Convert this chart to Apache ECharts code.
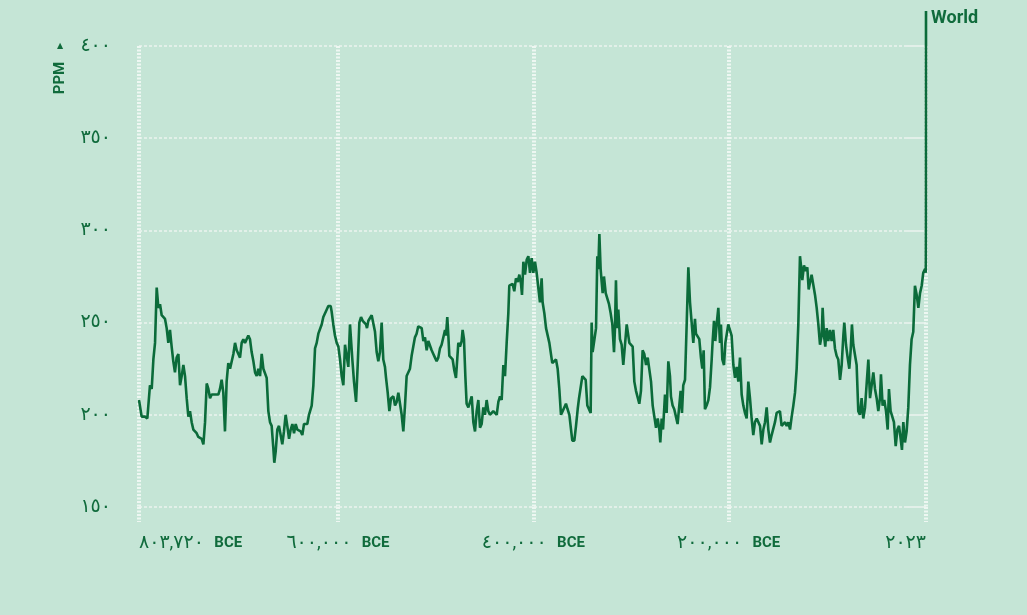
<!DOCTYPE html>
<html>
<head>
<meta charset="utf-8">
<script src="https://cdn.jsdelivr.net/npm/echarts@6/dist/echarts.min.js"></script>
<style>
  html, body { margin: 0; padding: 0; background: #c5e5d6; }
  #chart { width: 1027px; height: 615px; }
</style>
</head>
<body>
<div id="chart"></div>
<script>
const years = [
  -803720, -802700, -801000, -797600, -795200, -792500, -790700, -789000, -787300, -785600,
  -783900, -782200, -780500, -778800, -777100, -775400, -773700, -772000, -770300, -768600,
  -766900, -765200, -763400, -761700, -760000, -758300, -756600, -754900, -753200, -751500,
  -749800, -748100, -744700, -743000, -741200, -739500, -737800, -736100, -734400, -732700,
  -731000, -729300, -725900, -722500, -720800, -719100, -717400, -715700, -714000, -712300,
  -710500, -708800, -707100, -705400, -703700, -702000, -700300, -698600, -696900, -695200,
  -693500, -691800, -690100, -688400, -686600, -684900, -683200, -681500, -679800, -678100,
  -676400, -673000, -671300, -669600, -667900, -666200, -665200, -663800, -662100, -660400,
  -658700, -657000, -655300, -653600, -651900, -650100, -648400, -646700, -645000, -643300,
  -641600, -639900, -638200, -636500, -634800, -633100, -631400, -629700, -628000, -626900,
  -625200, -623500, -621800, -620100, -618400, -616700, -615000, -613300, -611600, -609900,
  -607500, -606500, -604800, -603100, -601300, -599600, -597900, -596200, -594500, -592800,
  -591100, -589400, -587700, -586700, -585300, -583600, -581500, -579800, -578100, -576400,
  -574700, -573000, -571300, -570300, -568900, -567200, -565500, -563800, -562100, -560400,
  -558700, -557000, -555300, -553600, -551900, -550800, -549100, -547400, -545700, -543300,
  -541600, -539900, -538200, -534800, -533100, -531400, -529700, -528000, -526300, -524600,
  -522900, -521200, -519500, -517800, -516000, -514300, -512600, -510900, -509200, -507500,
  -505800, -504100, -502400, -500700, -499000, -497300, -495600, -493900, -492100, -490400,
  -489400, -488100, -487000, -486000, -484300, -482600, -480900, -479200, -477800, -476800,
  -475100, -473400, -472400, -471000, -469600, -468300, -466500, -464800, -463100, -461400,
  -459700, -458000, -456300, -454600, -452900, -451200, -449500, -447800, -446100, -444400,
  -442700, -441000, -439300, -437500, -435800, -434100, -432400, -430700, -429000, -427300,
  -425600, -424600, -422900, -421200, -419500, -417800, -416000, -414300, -412600, -411600,
  -410200, -408500, -406800, -405100, -403400, -401700, -400000, -398300, -396600, -394900,
  -393200, -391500, -390500, -388700, -387000, -385300, -383600, -381900, -380600, -378800,
  -376800, -375100, -373400, -371700, -370000, -368300, -366600, -364900, -363100, -361400,
  -360100, -358000, -356300, -354600, -353200, -351500, -349800, -348100, -346400, -344700,
  -343000, -341300, -340300, -339300, -337500, -335800, -334500, -333500, -332400, -331100,
  -330000, -329000, -327700, -325900, -324200, -322500, -320800, -319100, -317400, -316400,
  -315400, -314300, -313000, -311300, -309600, -307900, -306200, -304400, -303400, -301700,
  -300000, -298300, -296600, -294900, -293200, -291500, -289800, -288100, -286400, -284600,
  -282900, -281200, -279500, -277800, -276100, -274400, -272700, -271000, -270000, -268600,
  -267200, -265200, -263500, -261800, -260100, -259100, -257400, -255700, -254000, -252300,
  -250500, -249200, -247800, -246500, -244700, -243000, -241300, -239600, -237900, -236200,
  -234500, -233500, -231800, -230100, -228400, -227000, -225600, -224300, -222600, -220800,
  -219100, -217400, -216400, -215000, -213700, -212300, -210600, -208900, -207900, -206500,
  -204800, -203400, -202100, -200400, -198700, -197000, -195200, -193500, -191800, -190100,
  -188400, -186700, -185000, -183300, -181600, -179900, -178200, -176500, -174800, -173100,
  -171300, -169600, -167900, -166200, -164500, -162800, -161100, -159400, -157700, -156000,
  -154300, -152600, -150900, -149200, -147500, -145800, -144100, -142300, -140600, -138900,
  -137200, -135500, -133800, -132100, -130400, -128700, -127000, -126000, -124600, -122900,
  -121200, -119500, -118100, -116800, -115100, -113300, -111600, -109900, -108200, -106500,
  -104800, -103800, -102400, -101100, -99700, -98000, -96300, -94600, -92900, -91200,
  -89500, -87800, -86000, -84300, -82600, -81600, -79900, -78200, -76500, -75100,
  -73800, -72400, -70700, -69000, -67300, -65600, -63900, -62200, -60400, -58700,
  -57000, -55300, -53600, -51900, -50200, -48500, -46800, -45100, -44100, -42400,
  -40700, -38900, -37200, -35900, -34200, -32500, -30800, -29000, -27300, -25600,
  -23900, -22600, -21200, -19500, -17800, -16100, -14400, -12700, -11000, -9300,
  -7500, -5800, -4100, -2400, -800, 1000, 1750, 1850, 1900, 1950,
  1970, 1990, 2000, 2010, 2023
];

const ppm = [
  208, 207, 199, 199, 198, 216, 214, 230, 239, 269,
  258, 260, 254, 255, 252, 247, 239, 246, 237, 229,
  223, 231, 233, 216, 221, 227, 221, 209, 199, 202,
  196, 192, 190, 188, 189, 187, 184, 196, 217, 214,
  209, 211, 211, 211, 214, 219, 212, 191, 218, 228,
  225, 226, 233, 239, 235, 234, 231, 239, 241, 239,
  238, 243, 241, 234, 229, 223, 221, 225, 221, 233,
  225, 220, 202, 196, 194, 182, 174, 180, 192, 194,
  193, 184, 191, 200, 194, 187, 192, 195, 190, 195,
  192, 192, 191, 189, 195, 194, 195, 200, 201, 205,
  216, 236, 239, 244, 245, 249, 253, 254, 257, 259,
  259, 256, 249, 243, 239, 237, 230, 221, 216, 238,
  239, 226, 249, 250, 230, 218, 207, 227, 250, 253,
  251, 252, 249, 247, 251, 250, 254, 253, 245, 234,
  229, 234, 250, 230, 226, 220, 212, 202, 209, 210,
  205, 207, 212, 200, 191, 205, 221, 221, 225, 232,
  237, 242, 244, 248, 247, 247, 240, 242, 235, 240,
  239, 235, 233, 231, 229, 231, 236, 238, 239, 246,
  243, 253, 243, 232, 231, 230, 224, 220, 231, 239,
  237, 240, 246, 241, 221, 206, 204, 205, 210, 196,
  191, 202, 208, 193, 195, 204, 200, 208, 202, 200,
  201, 202, 201, 200, 207, 210, 208, 227, 221, 239,
  255, 270, 269, 271, 267, 274, 272, 276, 271, 265,
  283, 276, 284, 286, 277, 285, 277, 283, 277, 276,
  261, 274, 261, 255, 247, 246, 239, 240, 228, 229,
  230, 225, 214, 200, 202, 204, 206, 203, 200, 192,
  186, 186, 194, 203, 209, 210, 221, 221, 219, 205,
  206, 201, 250, 234, 235, 247, 286, 279, 298, 279,
  272, 266, 275, 266, 267, 260, 255, 249, 234, 247,
  273, 247, 257, 241, 238, 227, 227, 249, 250, 239,
  240, 237, 218, 213, 212, 206, 213, 235, 233, 227,
  231, 230, 218, 205, 199, 193, 198, 192, 185, 198,
  192, 211, 201, 229, 221, 210, 205, 203, 199, 195,
  195, 213, 201, 216, 219, 249, 280, 261, 250, 239,
  252, 244, 243, 241, 231, 225, 235, 203, 205, 208,
  215, 230, 240, 251, 240, 249, 258, 239, 249, 230,
  227, 239, 239, 249, 250, 243, 227, 220, 226, 218,
  231, 211, 205, 201, 198, 218, 209, 198, 189, 196,
  198, 197, 194, 184, 192, 196, 204, 192, 185, 189,
  190, 196, 201, 202, 202, 194, 194, 196, 194, 196,
  192, 199, 205, 212, 225, 249, 286, 281, 273, 281,
  278, 280, 268, 268, 276, 277, 265, 258, 249, 238,
  243, 258, 243, 237, 247, 240, 246, 240, 246, 236,
  232, 230, 219, 227, 243, 250, 238, 231, 225, 235,
  249, 238, 239, 227, 202, 200, 209, 198, 204, 217,
  230, 209, 210, 223, 214, 209, 202, 209, 222, 205,
  208, 202, 192, 214, 202, 199, 196, 183, 192, 194,
  187, 181, 196, 185, 191, 204, 227, 241, 245, 270,
  265, 258, 266, 270, 277, 279, 277, 285, 296, 311,
  325, 354, 369, 389, 419
];

const xTicks = [-803720, -600000, -400000, -200000, 2023];
const yMin = 150;
const yMax = 400;
const yStep = 50;
const seriesName = 'World';

const TEXT = '#106b3c';
const LINE = '#0b6b3a';
const FONT = 'Roboto, "DejaVu Sans", sans-serif';

const ARABIC_DIGITS = '٠١٢٣٤٥٦٧٨٩';
function toArabicDigits(str) {
  return String(str).replace(/[0-9]/g, (d) => ARABIC_DIGITS[+d]);
}

function formatYear(v) {
  if (v < 0) {
    const n = Math.abs(v).toLocaleString('en-US');
    return '{num|' + toArabicDigits(n) + '} {bce|BCE}';
  }
  return '{num|' + toArabicDigits(v) + '}';
}

const chart = echarts.init(document.getElementById('chart'));

const vGrid = { color: '#eef7f2', width: 4, type: [2, 1.5] };
const hGrid = { color: '#e2f0e9', width: 2, type: [3, 2] };

const option = {
  backgroundColor: '#c5e5d6',
  animation: false,
  grid: {
    left: 139,
    right: 101,
    top: 46,
    bottom: 108,
    containLabel: false,
    outerBoundsMode: 'none'
  },
  xAxis: {
    type: 'value',
    min: xTicks[0],
    max: xTicks[xTicks.length - 1],
    axisLine: { show: false },
    axisTick: {
      show: true,
      length: 15,
      customValues: xTicks,
      lineStyle: vGrid
    },
    splitLine: { show: true, lineStyle: vGrid },
    axisLabel: {
      customValues: xTicks,
      margin: 27,
      alignMinLabel: 'left',
      alignMaxLabel: 'right',
      formatter: formatYear,
      rich: {
        num: { fontFamily: FONT, fontSize: 19, color: TEXT },
        bce: { fontFamily: FONT, fontSize: 15, fontWeight: 'bold', color: TEXT, padding: [0, 0, 0, 7] }
      }
    }
  },
  yAxis: {
    type: 'value',
    min: yMin,
    max: yMax,
    interval: yStep,
    axisLine: { show: false },
    axisTick: { show: true, length: 17, lineStyle: hGrid },
    splitLine: { show: true, lineStyle: hGrid },
    axisLabel: {
      margin: 28,
      color: TEXT,
      fontFamily: FONT,
      fontSize: 19,
      formatter: (v) => toArabicDigits(v)
    }
  },
  graphic: [
    {
      type: 'text',
      x: 60,
      y: 78,
      rotation: Math.PI / 2,
      style: {
        text: 'PPM',
        fill: TEXT,
        font: 'bold 15px ' + FONT,
        align: 'center',
        verticalAlign: 'middle'
      }
    },
    {
      type: 'text',
      x: 60,
      y: 46,
      style: {
        text: '▲',
        fill: TEXT,
        font: '8px ' + FONT,
        align: 'center',
        verticalAlign: 'middle'
      }
    }
  ],
  series: [
    {
      name: seriesName,
      type: 'line',
      data: years.map((y, i) => [y, ppm[i]]),
      showSymbol: false,
      clip: false,
      lineStyle: { color: LINE, width: 2.6 },
      itemStyle: { color: LINE },
      endLabel: {
        show: true,
        formatter: seriesName,
        color: TEXT,
        fontFamily: FONT,
        fontSize: 18,
        fontWeight: 'bold',
        distance: 5,
        offset: [0, 8]
      }
    }
  ]
};

chart.setOption(option);
</script>
</body>
</html>
